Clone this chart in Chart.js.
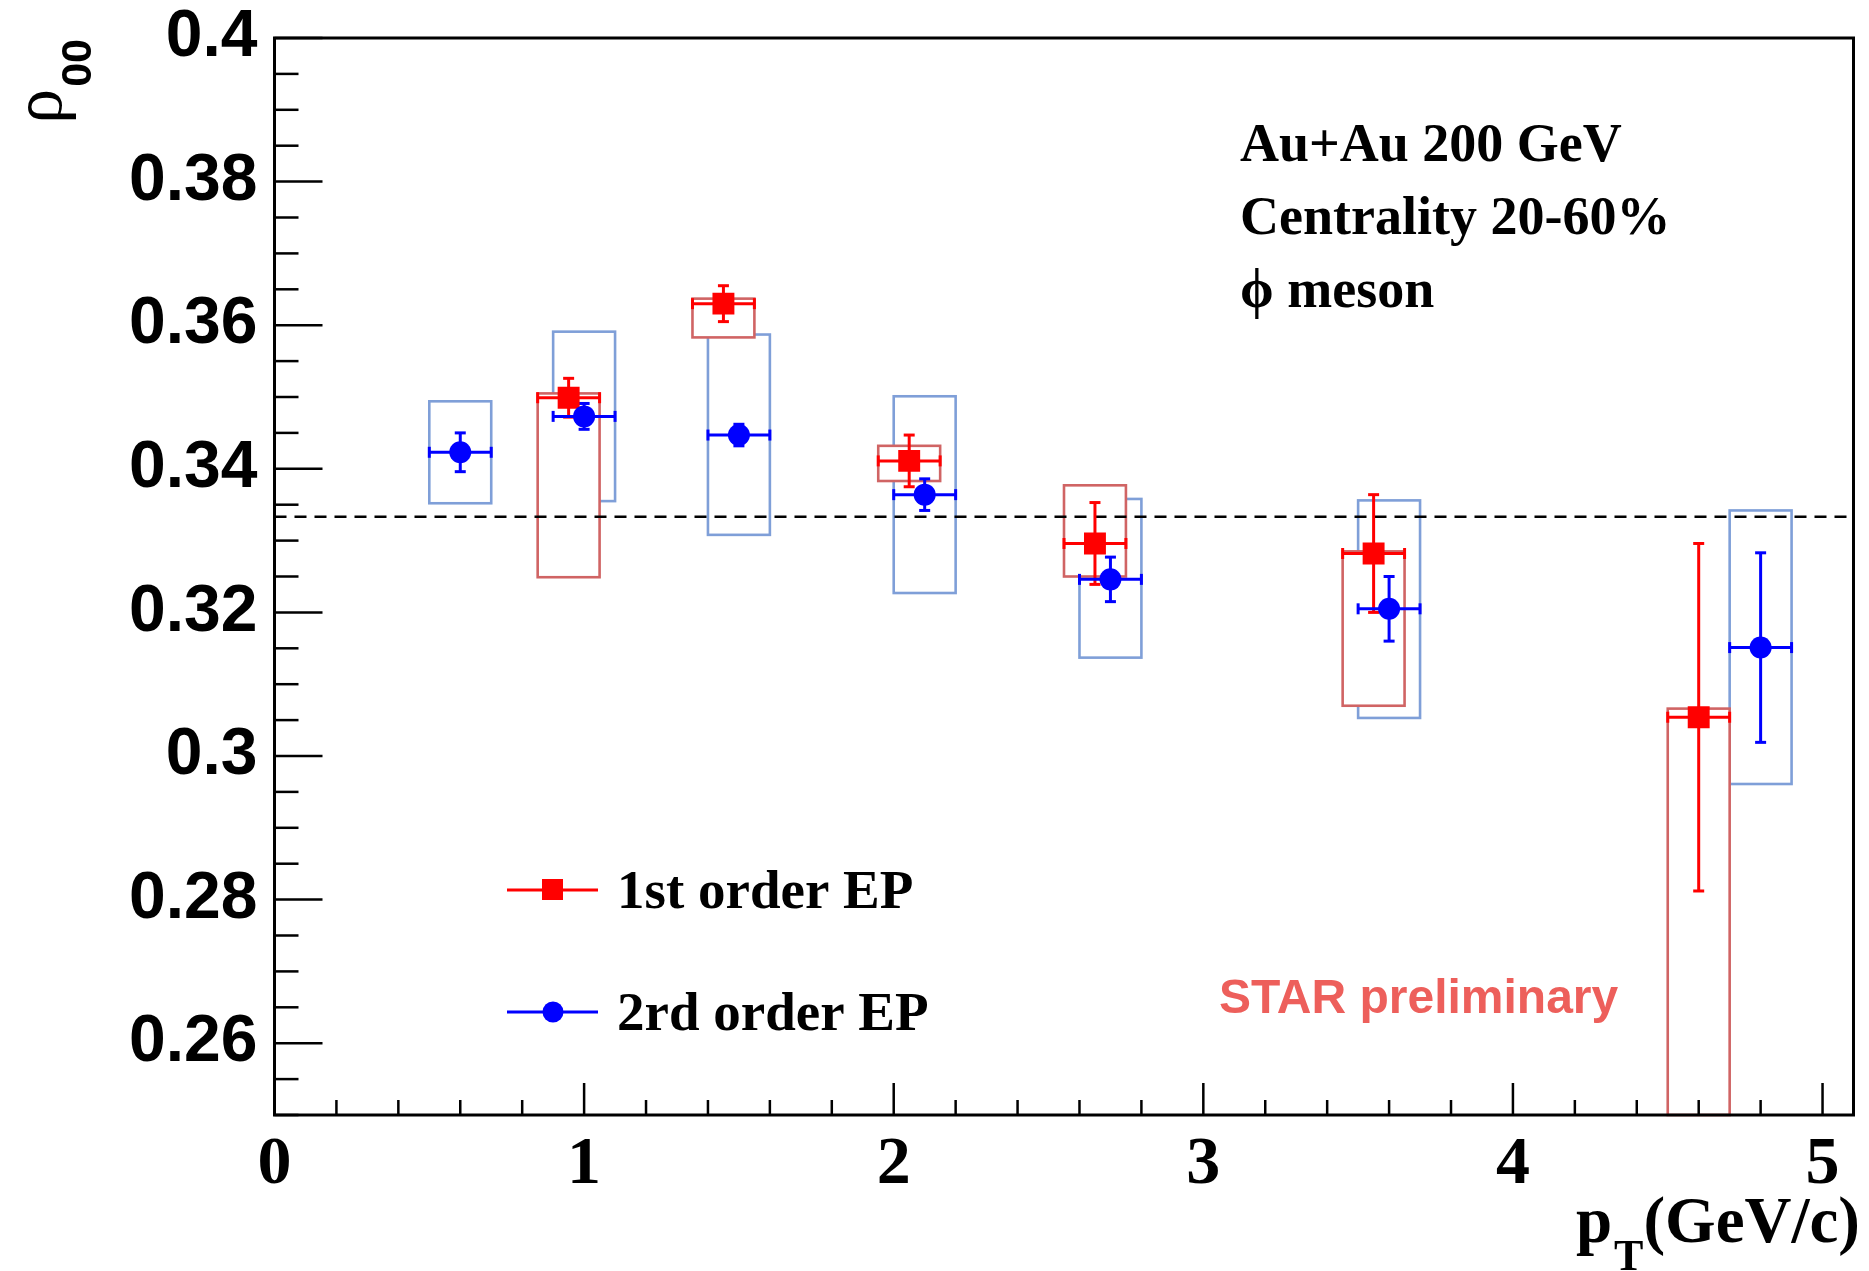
<!DOCTYPE html>
<html>
<head>
<meta charset="utf-8">
<script src="https://cdn.jsdelivr.net/npm/chart.js@4.4.1/dist/chart.umd.min.js"></script>
<style>
  html, body { margin: 0; padding: 0; background: #fff; }
  #wrap { width: 1869px; height: 1271px; }
</style>
</head>
<body>
<div id="wrap"><canvas id="myChart" width="1869" height="1271"></canvas></div>
<script>
// 1st order event plane (red squares)
var redPt      = [0.95, 1.45, 2.05, 2.65, 3.55, 4.6];
var redRho     = [0.3499, 0.3630, 0.3411, 0.3296, 0.3282, 0.3054];
var redStat    = [0.0027, 0.0025, 0.0036, 0.0057, 0.0082, 0.0242];
var redSysLow  = [0.3249, 0.3583, 0.3383, 0.3250, 0.3070, 0.2500];
var redSysHigh = [0.3505, 0.3637, 0.3432, 0.3377, 0.3285, 0.3066];

// 2nd order event plane (blue circles)
var bluePt      = [0.6, 1.0, 1.5, 2.1, 2.7, 3.6, 4.8];
var blueRho     = [0.3423, 0.3473, 0.3447, 0.3364, 0.3246, 0.3205, 0.3151];
var blueStat    = [0.0027, 0.0018, 0.0015, 0.0022, 0.0031, 0.0045, 0.0132];
var blueSysLow  = [0.3352, 0.3355, 0.3308, 0.3227, 0.3137, 0.3053, 0.2961];
var blueSysHigh = [0.3494, 0.3591, 0.3587, 0.3501, 0.3358, 0.3356, 0.3342];

var ptHalfWidth = 0.1;
var refLine = 1 / 3;

var xTicks = [0, 1, 2, 3, 4, 5];
var xTickLabels = ['0', '1', '2', '3', '4', '5'];
var yTicks = [0.26, 0.28, 0.30, 0.32, 0.34, 0.36, 0.38, 0.40];
var yTickLabels = ['0.26', '0.28', '0.3', '0.32', '0.34', '0.36', '0.38', '0.4'];

var infoLines = ['Au+Au 200 GeV', 'Centrality 20-60%', '\u03d5 meson'];

var RED = '#ff0000', BLUE = '#0000ff';
var RED_BOX = '#d06464', BLUE_BOX = '#7f9fd8';

function line(c, x1, y1, x2, y2) {
  c.beginPath(); c.moveTo(x1, y1); c.lineTo(x2, y2); c.stroke();
}

function sysBoxes(c, xs, ys, px, lo, hi, color, fill) {
  c.strokeStyle = color;
  c.lineWidth = 2.6;
  for (var i = 0; i < px.length; i++) {
    var x1 = xs.getPixelForValue(px[i] - ptHalfWidth);
    var x2 = xs.getPixelForValue(px[i] + ptHalfWidth);
    var y1 = ys.getPixelForValue(hi[i]);
    var y2 = ys.getPixelForValue(lo[i]);
    if (fill) { c.fillStyle = '#ffffff'; c.fillRect(x1, y1, x2 - x1, y2 - y1); }
    c.strokeRect(x1, y1, x2 - x1, y2 - y1);
  }
}

function errBars(c, xs, ys, px, py, dy, color) {
  c.strokeStyle = color;
  c.lineWidth = 3;
  for (var i = 0; i < px.length; i++) {
    var x = xs.getPixelForValue(px[i]), y = ys.getPixelForValue(py[i]);
    var xl = xs.getPixelForValue(px[i] - ptHalfWidth);
    var xr = xs.getPixelForValue(px[i] + ptHalfWidth);
    var yt = ys.getPixelForValue(py[i] + dy[i]);
    var yb = ys.getPixelForValue(py[i] - dy[i]);
    line(c, xl, y, xr, y);
    line(c, x, yt, x, yb);
    line(c, xl, y - 5.5, xl, y + 5.5);
    line(c, xr, y - 5.5, xr, y + 5.5);
    line(c, x - 5.5, yt, x + 5.5, yt);
    line(c, x - 5.5, yb, x + 5.5, yb);
  }
}

function text(c, s, x, y, font, color, align) {
  c.font = font;
  c.fillStyle = color;
  c.textAlign = align || 'left';
  c.textBaseline = 'alphabetic';
  c.fillText(s, x, y);
}

var rootStyle = {
  id: 'rootStyle',
  beforeDatasetsDraw: function(chart) {
    var c = chart.ctx, xs = chart.scales.x, ys = chart.scales.y, a = chart.chartArea;
    c.save();
    sysBoxes(c, xs, ys, bluePt, blueSysLow, blueSysHigh, BLUE_BOX, false);
    sysBoxes(c, xs, ys, redPt, redSysLow, redSysHigh, RED_BOX, true);

    // rho00 = 1/3 reference
    c.strokeStyle = '#000';
    c.lineWidth = 2.5;
    c.setLineDash([12, 8]);
    var yr = ys.getPixelForValue(refLine);
    line(c, a.left, yr, a.right, yr);
    c.setLineDash([]);

    errBars(c, xs, ys, redPt, redRho, redStat, RED);
    errBars(c, xs, ys, bluePt, blueRho, blueStat, BLUE);
    c.restore();
  },
  afterDraw: function(chart) {
    var c = chart.ctx, xs = chart.scales.x, ys = chart.scales.y, a = chart.chartArea;
    c.save();

    // frame
    c.strokeStyle = '#000';
    c.lineWidth = 3;
    c.strokeRect(a.left, a.top, a.right - a.left, a.bottom - a.top);

    // ticks pointing inwards
    c.lineWidth = 2.5;
    var i, p;
    for (i = 0; i <= 30; i++) {
      p = ys.getPixelForValue(0.25 + i * 0.005);
      line(c, a.left, p, a.left + (i % 4 === 2 ? 48 : 24), p);
    }
    for (i = 0; i <= 25; i++) {
      p = xs.getPixelForValue(i * 0.2);
      line(c, p, a.bottom, p, a.bottom - (i % 5 === 0 ? 32 : 15));
    }

    // axis titles
    c.font = 'bold 65px "Liberation Serif"';
    var wClose = c.measureText('(GeV/c)').width;
    c.font = 'bold 44px "Liberation Serif"';
    var wT = c.measureText('T').width;
    var xEnd = 1860, base = 1242;
    text(c, '(GeV/c)', xEnd, base, 'bold 65px "Liberation Serif"', '#000', 'right');
    text(c, 'T', xEnd - wClose, base + 28, 'bold 44px "Liberation Serif"', '#000', 'right');
    text(c, 'p', xEnd - wClose - wT - 2, base, 'bold 65px "Liberation Serif"', '#000', 'right');

    c.save();
    c.rotate(-Math.PI / 2);
    // in rotated frame: local x = -screenY, local y = screenX
    c.font = 'bold 43px "Liberation Sans"';
    var w00 = c.measureText('00').width;
    text(c, '00', -39 - w00, 91, 'bold 43px "Liberation Sans"', '#000', 'left');
    text(c, '\u03c1', -39 - w00 - 2, 61, '70px "Liberation Serif"', '#000', 'right');
    c.restore();

    // info text
    for (i = 0; i < infoLines.length; i++) {
      text(c, infoLines[i], 1240, 161 + i * 73, 'bold 54px "Liberation Serif"', '#000', 'left');
    }

    // legend
    c.lineWidth = 3;
    c.strokeStyle = RED;
    line(c, 507, 890, 598, 890);
    c.fillStyle = RED;
    c.fillRect(542, 879, 21, 21);
    text(c, chart.data.datasets[1].label, 617, 908, 'bold 55px "Liberation Serif"', '#000', 'left');
    c.strokeStyle = BLUE;
    line(c, 507, 1012, 598, 1012);
    c.fillStyle = BLUE;
    c.beginPath(); c.arc(553, 1012, 10.5, 0, Math.PI * 2); c.fill();
    text(c, chart.data.datasets[0].label, 617, 1030, 'bold 55px "Liberation Serif"', '#000', 'left');

    text(c, 'STAR preliminary', 1219, 1013, 'bold 48px "Liberation Sans"', '#ed5f5b', 'left');
    c.restore();
  }
};

var ctx = document.getElementById('myChart').getContext('2d');
var myChart = new Chart(ctx, {
  type: 'scatter',
  data: {
    datasets: [{
      label: '2rd order EP',
      data: bluePt.map(function(x, i) { return {x: x, y: blueRho[i]}; }),
      pointStyle: 'circle',
      pointRadius: 11,
      backgroundColor: BLUE,
      borderColor: BLUE,
      borderWidth: 0,
      order: 0
    }, {
      label: '1st order EP',
      data: redPt.map(function(x, i) { return {x: x, y: redRho[i]}; }),
      pointStyle: 'rect',
      pointRadius: 15.5,
      backgroundColor: RED,
      borderColor: RED,
      borderWidth: 0,
      order: 1
    }]
  },
  options: {
    responsive: false,
    animation: false,
    devicePixelRatio: 1,
    layout: { padding: { left: 0, right: 7, top: 38, bottom: 0 } },
    scales: {
      x: {
        type: 'linear',
        min: 0,
        max: 5.1,
        grid: { display: false },
        border: { display: false },
        afterBuildTicks: function(s) { s.ticks = xTicks.map(function(v) { return {value: v}; }); },
        afterFit: function(s) { s.height = 156; },
        ticks: {
          autoSkip: false,
          maxRotation: 0,
          padding: 2,
          color: '#000',
          font: { family: 'Liberation Serif', weight: 'bold', size: 68 },
          callback: function(v, i) { return xTickLabels[i]; }
        }
      },
      y: {
        type: 'linear',
        min: 0.25,
        max: 0.4,
        grid: { display: false },
        border: { display: false },
        afterBuildTicks: function(s) { s.ticks = yTicks.map(function(v) { return {value: v}; }); },
        afterFit: function(s) { s.width = 274.5; },
        ticks: {
          autoSkip: false,
          padding: 9,
          color: '#000',
          font: { family: 'Liberation Sans', weight: 'bold', size: 66, lineHeight: 0.5 },
          callback: function(v, i) { return yTickLabels[i]; }
        }
      }
    },
    plugins: {
      legend: { display: false },
      tooltip: { enabled: false },
      title: { display: false }
    }
  },
  plugins: [rootStyle]
});
</script>
</body>
</html>
